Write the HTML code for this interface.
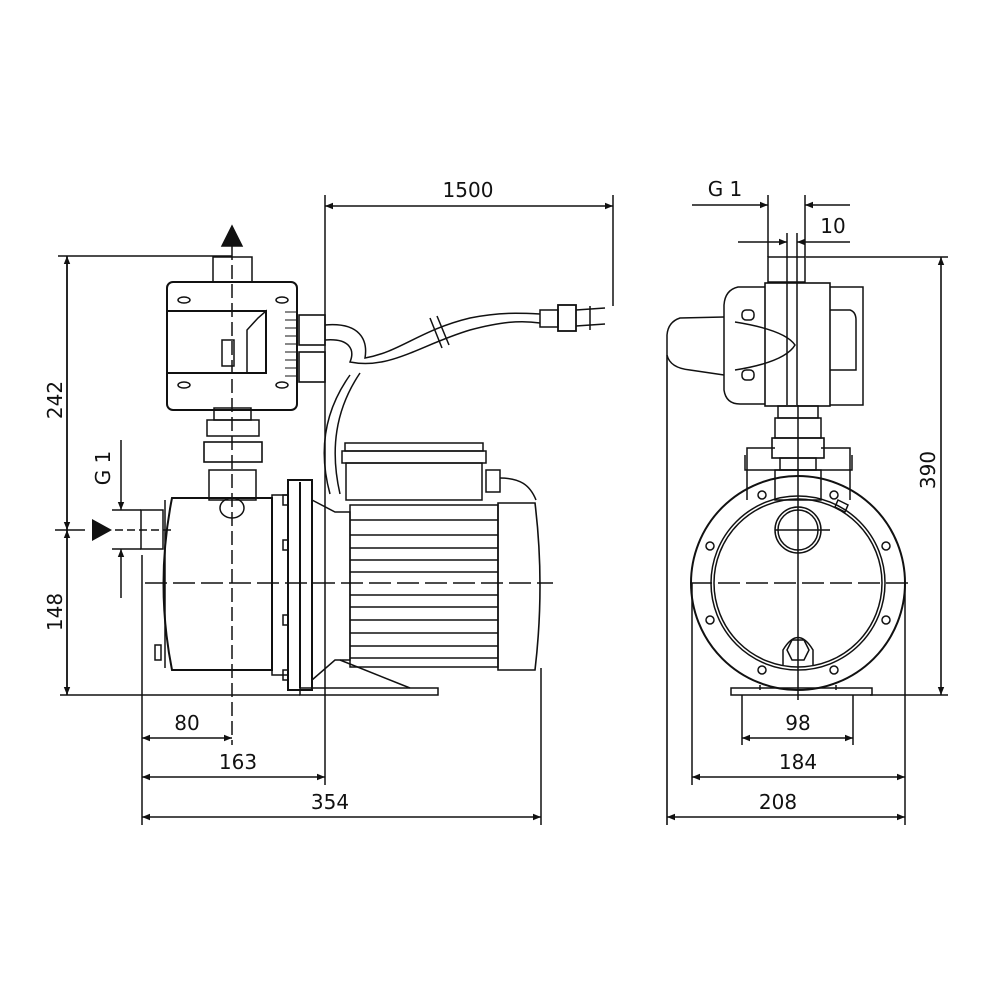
<!DOCTYPE html>
<html><head><meta charset="utf-8"><style>
html,body{margin:0;padding:0;background:#fff}
svg{display:block}
text{font-family:"DejaVu Sans","Liberation Sans",sans-serif;font-size:20px;fill:#111}
</style></head><body>
<svg width="1000" height="1000" viewBox="0 0 1000 1000" xmlns="http://www.w3.org/2000/svg">
<defs>
<marker id="a" viewBox="0 0 10 10" refX="10" refY="5" markerWidth="10" markerHeight="8" orient="auto-start-reverse" markerUnits="userSpaceOnUse"><path d="M0,1 L10,5 L0,9 z" fill="#111"/></marker>
</defs>
<g stroke="#111" fill="none" stroke-width="1.5">
<line x1="325" y1="195" x2="325" y2="785"/>
<line x1="613" y1="195" x2="613" y2="306"/>
<line x1="325" y1="206" x2="613" y2="206" marker-start="url(#a)" marker-end="url(#a)"/>
<line x1="58" y1="256" x2="232" y2="256" stroke-width="1.6"/>
<path d="M222,246 L232,226 L242,246 z" fill="#111"/>
<line x1="232" y1="246" x2="232" y2="745" stroke-dasharray="14,5"/>
<rect x="213" y="257" width="39" height="25"/>
<rect x="167" y="282" width="130" height="128" rx="6" stroke-width="2"/>
<rect x="167" y="311" width="99" height="62" stroke-width="2"/>
<path d="M266,311 L266,373 L247,373 L247,330 L258,318 Z"/>
<rect x="222" y="340" width="12" height="26"/>
<ellipse cx="184" cy="300" rx="6" ry="3"/><ellipse cx="282" cy="300" rx="6" ry="3"/>
<ellipse cx="184" cy="385" rx="6" ry="3"/><ellipse cx="282" cy="385" rx="6" ry="3"/>
<g stroke-width="1">
<line x1="285" y1="312" x2="297" y2="312"/><line x1="285" y1="320" x2="297" y2="320"/><line x1="285" y1="328" x2="297" y2="328"/><line x1="285" y1="336" x2="297" y2="336"/><line x1="285" y1="344" x2="297" y2="344"/><line x1="285" y1="352" x2="297" y2="352"/><line x1="285" y1="360" x2="297" y2="360"/><line x1="285" y1="368" x2="297" y2="368"/><line x1="285" y1="376" x2="297" y2="376"/>
</g>
<rect x="299" y="315" width="26" height="30" stroke-width="1.6"/>
<rect x="299" y="352" width="26" height="30" stroke-width="1.6"/>
<path d="M325,325 C360,322 368,340 365,358 C400,352 420,330 470,318 C500,312 520,313 540,314"/>
<path d="M325,340 C350,338 355,350 350,362 C390,370 420,345 470,330 C500,322 520,320 540,323"/>
<line x1="430" y1="318" x2="442" y2="348"/><line x1="437" y1="316" x2="449" y2="345"/>
<rect x="540" y="310" width="18" height="17"/>
<rect x="558" y="305" width="18" height="26" stroke-width="1.8"/>
<path d="M576,310 L605,308 M576,326 L605,324 M590,306 L590,330"/>
<path d="M350,375 C325,410 318,450 330,494"/>
<path d="M360,373 C335,410 330,450 340,494"/>
<rect x="214" y="408" width="37" height="12"/>
<rect x="207" y="420" width="52" height="16"/>
<rect x="204" y="442" width="58" height="20" stroke-width="1.6"/>
<rect x="209" y="470" width="47" height="30"/>
<path d="M172,498 L272,498 L272,670 L172,670 Q155,584 172,498 Z" stroke-width="2"/>
<line x1="165" y1="500" x2="165" y2="668"/>
<ellipse cx="232" cy="508" rx="12" ry="10"/>
<rect x="141" y="510" width="22" height="39"/>
<rect x="155" y="645" width="6" height="15"/>
<rect x="272" y="495" width="16" height="180"/>
<rect x="288" y="480" width="24" height="210" stroke-width="2"/>
<line x1="300" y1="482" x2="300" y2="688" stroke-width="2"/>
<rect x="283" y="495" width="5" height="10"/><rect x="283" y="540" width="5" height="10"/><rect x="283" y="615" width="5" height="10"/><rect x="283" y="670" width="5" height="10"/>
<path d="M312,500 L335,512 L350,512 L350,660 L335,660 L312,680"/>
<rect x="345" y="443" width="138" height="8"/>
<rect x="342" y="451" width="144" height="12"/>
<rect x="346" y="463" width="136" height="37"/>
<rect x="486" y="470" width="14" height="22"/>
<path d="M500,478 C520,478 530,485 536,500"/>
<rect x="350" y="505" width="148" height="162"/>
<g stroke-width="1.6">
<line x1="350" y1="520" x2="498" y2="520"/><line x1="350" y1="535" x2="498" y2="535"/><line x1="350" y1="548" x2="498" y2="548"/><line x1="350" y1="560" x2="498" y2="560"/><line x1="350" y1="572" x2="498" y2="572"/><line x1="350" y1="595" x2="498" y2="595"/><line x1="350" y1="607" x2="498" y2="607"/><line x1="350" y1="620" x2="498" y2="620"/><line x1="350" y1="633" x2="498" y2="633"/><line x1="350" y1="646" x2="498" y2="646"/><line x1="350" y1="658" x2="498" y2="658"/>
</g>
<path d="M498,503 L535,503 Q545,585 535,670 L498,670 Z" stroke-width="1.6"/>
<path d="M340,660 L410,688"/>
<rect x="300" y="688" width="138" height="7"/>
<line x1="145" y1="583" x2="553" y2="583" stroke-dasharray="22,6"/>
<line x1="67" y1="256" x2="67" y2="695" stroke-width="1.6"/>
<line x1="67" y1="256" x2="67" y2="530" marker-start="url(#a)" marker-end="url(#a)"/>
<line x1="67" y1="530" x2="67" y2="695" marker-start="url(#a)" marker-end="url(#a)"/>
<line x1="55" y1="530" x2="85" y2="530"/>
<line x1="60" y1="695" x2="300" y2="695" stroke-width="1.6"/>
<line x1="121" y1="440" x2="121" y2="510" marker-end="url(#a)"/>
<line x1="121" y1="598" x2="121" y2="549" marker-end="url(#a)"/>
<line x1="112" y1="510" x2="141" y2="510"/><line x1="112" y1="549" x2="141" y2="549"/>
<line x1="115" y1="530" x2="175" y2="530" stroke-dasharray="8,4"/>
<line x1="142" y1="555" x2="142" y2="825"/>
<line x1="541" y1="668" x2="541" y2="825"/>
<line x1="142" y1="738" x2="232" y2="738" marker-start="url(#a)" marker-end="url(#a)"/>
<line x1="142" y1="777" x2="325" y2="777" marker-start="url(#a)" marker-end="url(#a)"/>
<line x1="142" y1="817" x2="541" y2="817" marker-start="url(#a)" marker-end="url(#a)"/>

<line x1="768" y1="195" x2="768" y2="257"/>
<line x1="805" y1="195" x2="805" y2="257"/>
<line x1="692" y1="205" x2="768" y2="205" marker-end="url(#a)"/>
<line x1="850" y1="205" x2="805" y2="205" marker-end="url(#a)"/>
<line x1="787" y1="233" x2="787" y2="405"/>
<line x1="797" y1="233" x2="797" y2="405"/>
<line x1="738" y1="242" x2="787" y2="242" marker-end="url(#a)"/>
<line x1="850" y1="242" x2="797" y2="242" marker-end="url(#a)"/>
<line x1="806" y1="257" x2="948" y2="257" stroke-width="1.6"/>
<line x1="941" y1="257" x2="941" y2="695" marker-start="url(#a)" marker-end="url(#a)" stroke-width="1.6"/>
<line x1="870" y1="695" x2="948" y2="695" stroke-width="1.6"/>
<rect x="768" y="257" width="37" height="25"/>
<rect x="765" y="283" width="65" height="123" stroke-width="1.6"/>
<path d="M765,287 L738,287 Q725,290 724,305 L724,390 Q726,404 740,404 L765,404"/>
<path d="M830,287 L863,287 L863,405 L830,405"/>
<path d="M830,310 L850,310 Q856,312 856,320 L856,370 L830,370"/>
<path d="M724,317 L680,318 Q668,322 667,335 L667,355 Q670,368 690,370 L724,375"/>
<path d="M735,322 Q785,330 795,345 Q785,362 735,370" />
<rect x="742" y="310" width="12" height="10" rx="4"/><rect x="742" y="370" width="12" height="10" rx="4"/>
<rect x="778" y="406" width="40" height="12"/>
<rect x="775" y="418" width="46" height="20"/>
<rect x="772" y="438" width="52" height="20" stroke-width="1.6"/>
<rect x="780" y="458" width="36" height="12"/>
<rect x="775" y="470" width="46" height="30"/>
<path d="M747,500 L747,448 L775,448 M821,448 L850,448 L850,500"/>
<path d="M745,455 L745,470 L852,470 L852,455"/>
<circle cx="798" cy="583" r="107" stroke-width="2"/>
<circle cx="798" cy="583" r="87"/>
<circle cx="798" cy="583" r="84"/>
<circle cx="798" cy="530" r="23"/>
<circle cx="798" cy="530" r="20"/>
<path d="M783,665 L783,650 Q798,625 813,650 L813,665"/>
<path d="M792,640 L804,640 L809,650 L804,660 L792,660 L787,650 Z"/>
<g>
<circle cx="762" cy="495" r="4"/><circle cx="834" cy="495" r="4"/>
<circle cx="710" cy="546" r="4"/><circle cx="886" cy="546" r="4"/>
<circle cx="710" cy="620" r="4"/><circle cx="886" cy="620" r="4"/>
<circle cx="762" cy="670" r="4"/><circle cx="834" cy="670" r="4"/>
</g>
<path d="M838,500 L848,505 L845,512 L835,507 Z"/>
<path d="M760,685 L760,690 M836,685 L836,690"/>
<rect x="731" y="688" width="141" height="7"/>
<line x1="690" y1="583" x2="908" y2="583" stroke-dasharray="22,6"/>
<line x1="798" y1="405" x2="798" y2="700"/>
<line x1="775" y1="530" x2="830" y2="530"/>
<line x1="667" y1="355" x2="667" y2="825" stroke-width="1.6"/>
<line x1="905" y1="583" x2="905" y2="825"/>
<line x1="692" y1="583" x2="692" y2="785"/>
<line x1="742" y1="695" x2="742" y2="745"/>
<line x1="853" y1="695" x2="853" y2="745"/>
<line x1="742" y1="738" x2="853" y2="738" marker-start="url(#a)" marker-end="url(#a)"/>
<line x1="692" y1="777" x2="905" y2="777" marker-start="url(#a)" marker-end="url(#a)"/>
<line x1="667" y1="817" x2="905" y2="817" marker-start="url(#a)" marker-end="url(#a)"/>
</g>
<path d="M92,519 L112,530 L92,541 z" fill="#111"/>
<text x="468" y="197" text-anchor="middle">1500</text>
<text x="187" y="730" text-anchor="middle">80</text>
<text x="238" y="769" text-anchor="middle">163</text>
<text x="330" y="809" text-anchor="middle">354</text>
<text x="725" y="196" text-anchor="middle">G 1</text>
<text x="833" y="233" text-anchor="middle">10</text>
<text x="798" y="730" text-anchor="middle">98</text>
<text x="798" y="769" text-anchor="middle">184</text>
<text x="778" y="809" text-anchor="middle">208</text>
<text transform="translate(62,400) rotate(-90)" text-anchor="middle">242</text>
<text transform="translate(62,612) rotate(-90)" text-anchor="middle">148</text>
<text transform="translate(110,468) rotate(-90)" text-anchor="middle">G 1</text>
<text transform="translate(935,470) rotate(-90)" text-anchor="middle">390</text>
</svg>
</body></html>
